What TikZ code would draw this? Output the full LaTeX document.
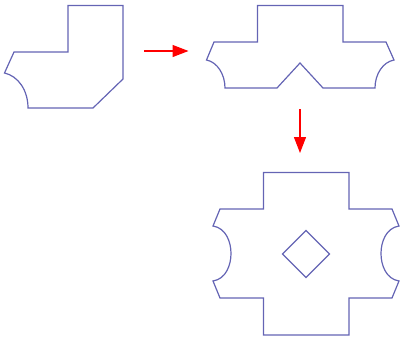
\documentclass[tikz,border=0pt]{standalone}
\usetikzlibrary{arrows.meta}
\definecolor{shapecol}{RGB}{100,100,180}
\tikzset{
  shapeline/.style={draw=shapecol, line width=1.2pt, line join=miter},
  flowarrow/.style={draw=red, line width=1.3pt, -{Triangle[length=16pt,width=12pt]}}
}
\begin{document}
\begin{tikzpicture}[x=1pt,y=-1pt]
\useasboundingbox (0,0) rectangle (400,338);
% shape 1
\draw[shapeline] (68,5.5) -- (123,5.5) -- (123,79) -- (93,108) -- (28,108)
  .. controls (28,90) and (18,76) .. (4.5,73) -- (14,52) -- (68,52) -- cycle;
% shape 2
\draw[shapeline] (257.5,5.5) -- (343,5.5) -- (343,42) -- (386,42) -- (394,60)
  .. controls (383,62) and (375,74) .. (375,88) -- (323,88) -- (300,63) -- (277,88) -- (225,88)
  .. controls (225,74) and (217,62) .. (206.5,60) -- (214,42) -- (257.5,42) -- cycle;
% shape 3
\draw[shapeline] (263.5,172.5) -- (349,172.5) -- (349,209) -- (392,209) -- (399,226)
  .. controls (386,228) and (381,242) .. (381,253.5) .. controls (381,265) and (386,279) .. (399,281)
  -- (392,298) -- (349,298) -- (349,335) -- (263.5,335) -- (263.5,298) -- (220,298) -- (213,281)
  .. controls (226,279) and (231,265) .. (231,253.5) .. controls (231,242) and (226,228) .. (213,226)
  -- (220,209) -- (263.5,209) -- cycle;
\draw[shapeline] (306,230.5) -- (329.5,254) -- (306,277.5) -- (282.5,254) -- cycle;
% arrows
\coordinate (a1s) at (144,51);
\coordinate (a1e) at (188.5,51);
\coordinate (a2s) at (300,109);
\coordinate (a2e) at (300,153);
\draw[flowarrow] (a1s) -- (a1e);
\draw[flowarrow] (a2s) -- (a2e);
\end{tikzpicture}
\end{document}
